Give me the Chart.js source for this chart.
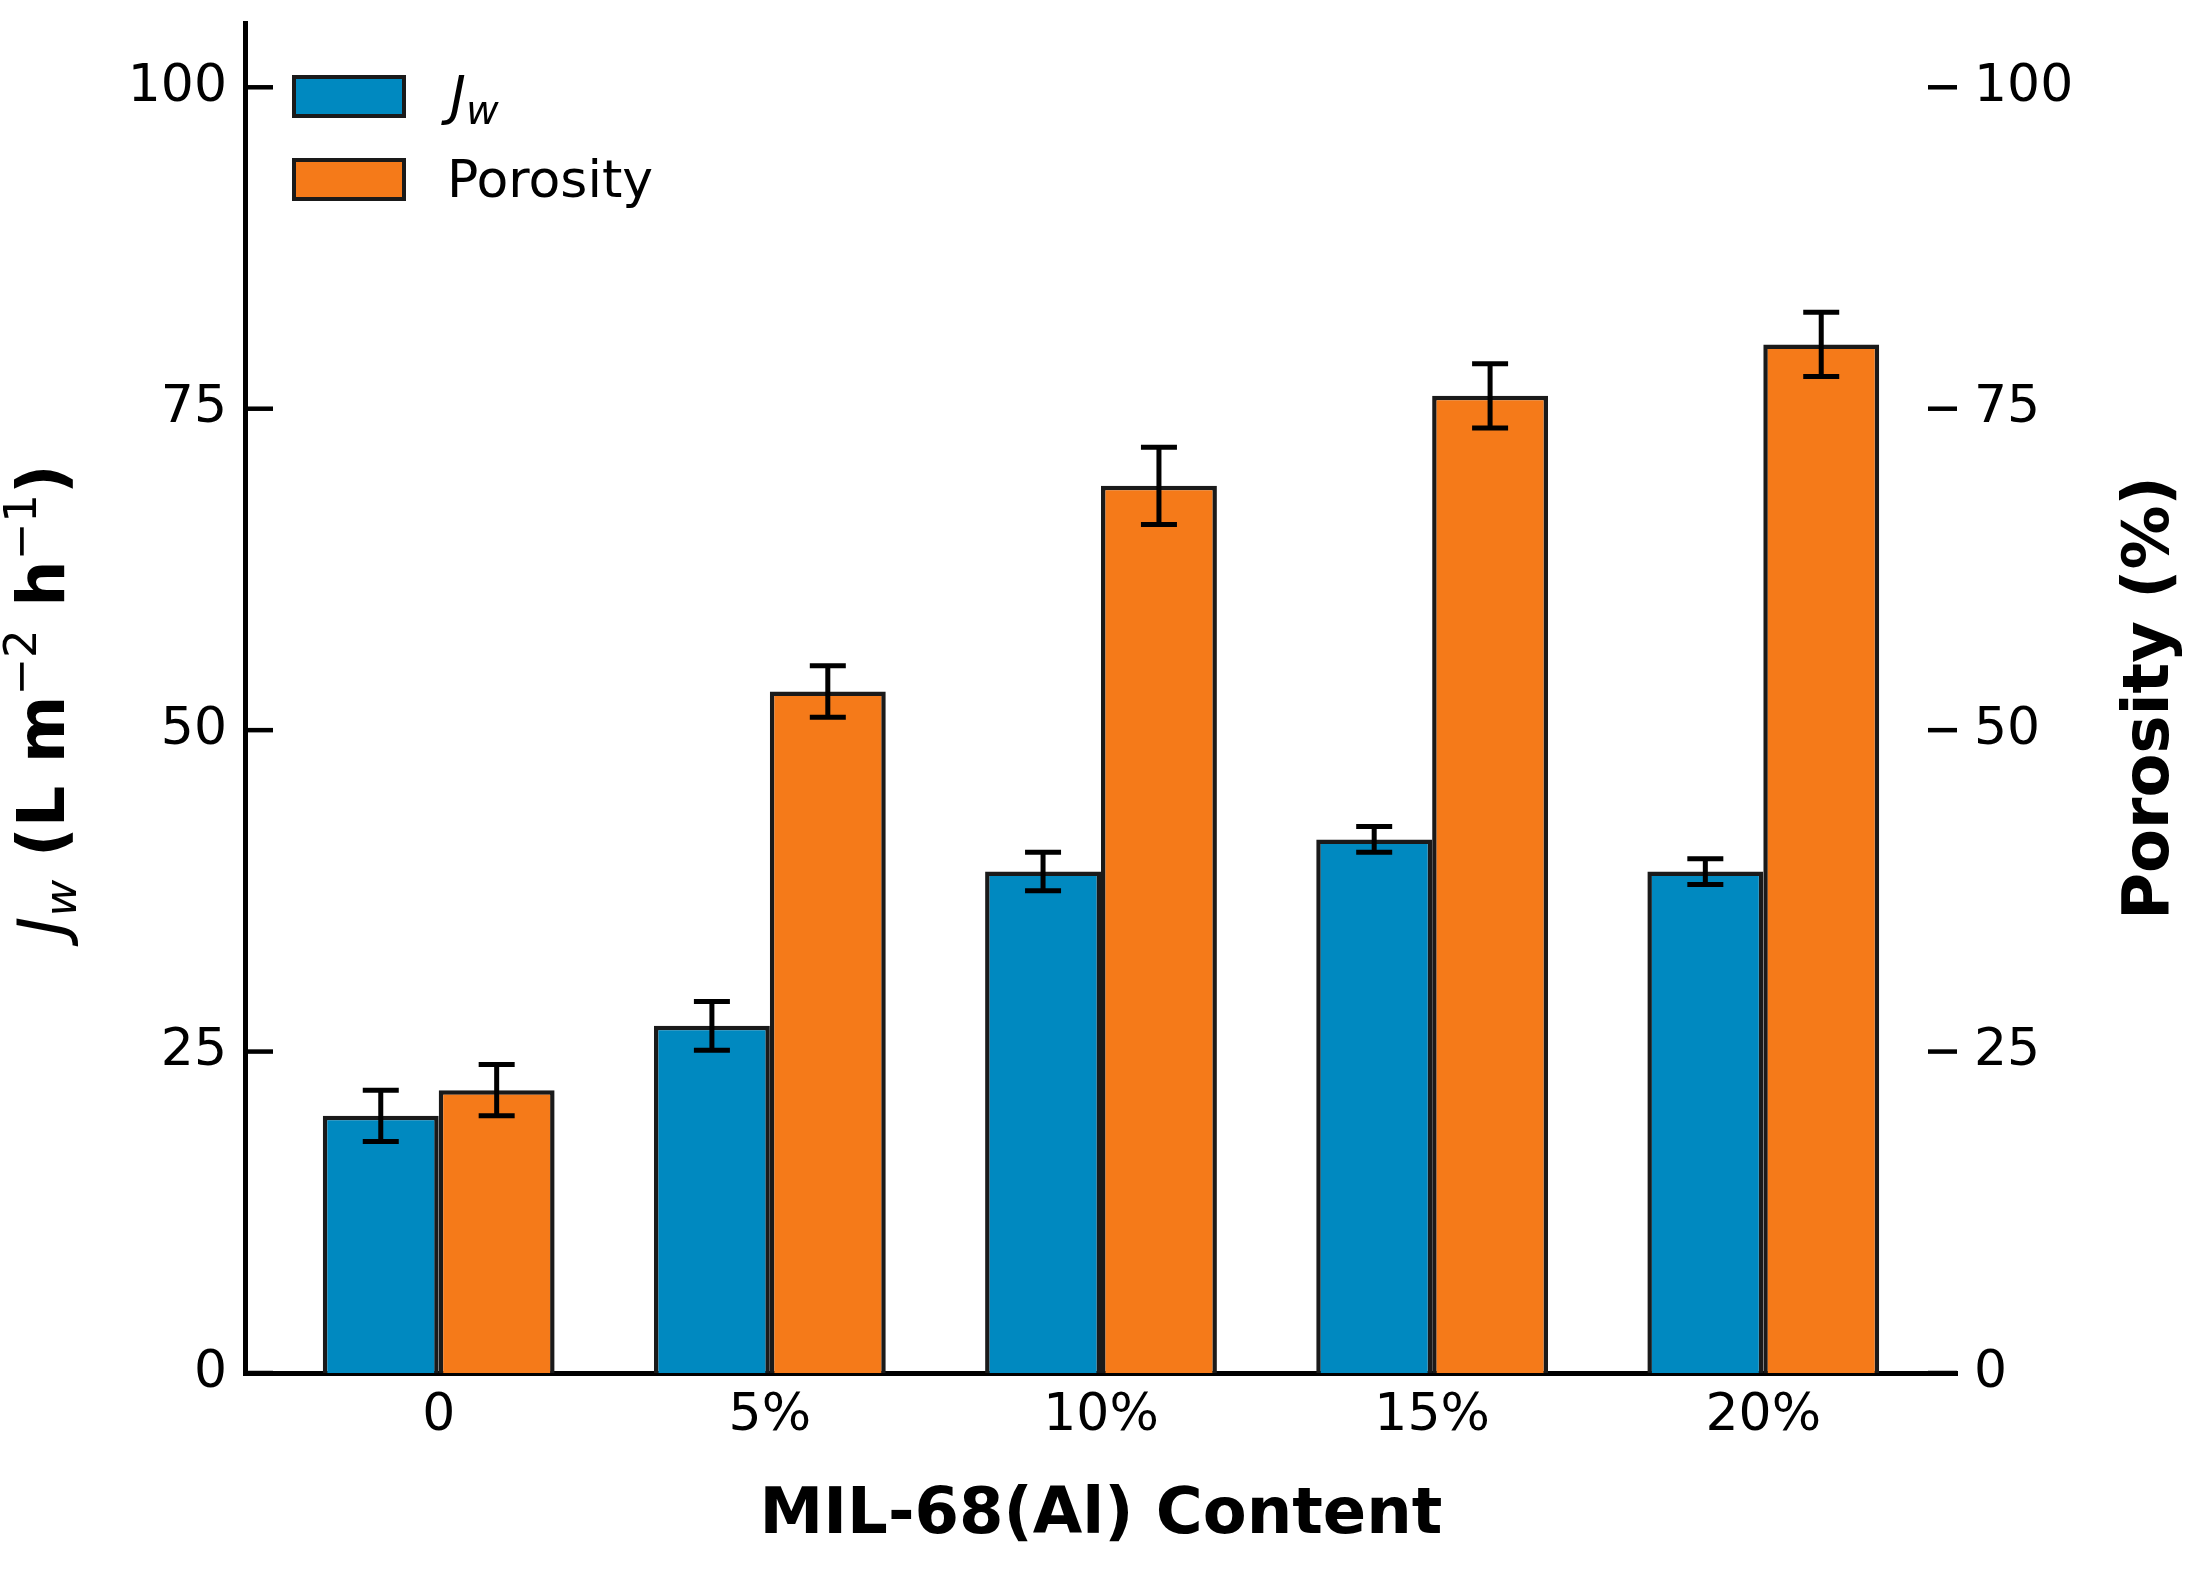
<!DOCTYPE html>
<html>
<head>
<meta charset="utf-8">
<script src="https://cdn.jsdelivr.net/npm/chart.js@4.4.1/dist/chart.umd.min.js"></script>
<style>body{margin:0;background:#fff}canvas{display:block}</style>
</head>
<body>
<canvas id="chart" width="2197" height="1582"></canvas>
<script>
// values
const categories = ['0', '5%', '10%', '15%', '20%'];
const jwValues = [20, 27, 39, 41.5, 39];
const jwErrors = [2, 1.9, 1.5, 1, 1];
const porosityValues = [22, 53, 69, 76, 80];
const porosityErrors = [2, 2, 3, 2.5, 2.5];
const yTicks = [0, 25, 50, 75, 100];

const FONT = 'DejaVu Sans';
const BLUE = '#0089c0';
const ORANGE = '#f57a19';
const EDGE = '#1a1a1a';

// error bars drawn from the bar elements + the dataset's own y scale
const errorBars = {
  id: 'errorBars',
  afterDatasetsDraw(chart) {
    const ctx = chart.ctx;
    chart.data.datasets.forEach((ds, i) => {
      const meta = chart.getDatasetMeta(i);
      const ys = chart.scales[ds.yAxisID];
      meta.data.forEach((bar, j) => {
        const v = ds.data[j].y, e = ds.errors[j];
        const top = ys.getPixelForValue(v + e), bot = ys.getPixelForValue(v - e);
        ctx.save();
        ctx.strokeStyle = '#000';
        ctx.lineWidth = 5;
        ctx.beginPath();
        ctx.moveTo(bar.x, top); ctx.lineTo(bar.x, bot);
        ctx.moveTo(bar.x - 18, top); ctx.lineTo(bar.x + 18, top);
        ctx.moveTo(bar.x - 18, bot); ctx.lineTo(bar.x + 18, bot);
        ctx.stroke();
        ctx.restore();
      });
    });
  }
};

function drawRich(ctx, parts, x, y, rot) {
  ctx.save();
  ctx.translate(x, y);
  ctx.rotate(rot);
  let total = 0;
  parts.forEach(p => { ctx.font = p.font; p.w = ctx.measureText(p.t).width; total += p.w; });
  let cx = -total / 2;
  ctx.textBaseline = 'alphabetic';
  ctx.textAlign = 'left';
  ctx.fillStyle = '#000';
  parts.forEach(p => { ctx.font = p.font; ctx.fillText(p.t, cx, p.dy || 0); cx += p.w; });
  ctx.restore();
}

// inward ticks, axis titles and legend
const decorations = {
  id: 'decorations',
  afterDraw(chart) {
    const ctx = chart.ctx;
    const a = chart.chartArea;
    const yl = chart.scales.y, yr = chart.scales.y2;
    ctx.save();
    ctx.strokeStyle = '#000';
    ctx.lineWidth = 4.5;
    yTicks.forEach(t => {
      const py = yl.getPixelForValue(t);
      ctx.beginPath(); ctx.moveTo(a.left, py); ctx.lineTo(a.left + 28, py); ctx.stroke();
      const pr = yr.getPixelForValue(t);
      ctx.beginPath(); ctx.moveTo(a.right - 29, pr); ctx.lineTo(a.right, pr); ctx.stroke();
    });
    ctx.restore();

    // left title: J_w (L m^-2 h^-1)
    const big = 65, small = 45;
    drawRich(ctx, [
      {t: 'J', font: `italic ${big}px ${FONT}`},
      {t: 'w', font: `italic ${small}px ${FONT}`, dy: 12},
      {t: ' (L m', font: `bold ${big}px ${FONT}`},
      {t: '\u22122', font: `${small}px ${FONT}`, dy: -28},
      {t: ' h', font: `bold ${big}px ${FONT}`},
      {t: '\u22121', font: `${small}px ${FONT}`, dy: -28},
      {t: ')', font: `bold ${big}px ${FONT}`}
    ], 64, 700, -Math.PI / 2);

    drawRich(ctx, [{t: 'Porosity (%)', font: `bold 64px ${FONT}`}], 2168, 698, -Math.PI / 2);
    drawRich(ctx, [{t: 'MIL-68(Al) Content', font: `bold 64px ${FONT}`}], (a.left + a.right) / 2, 1533, 0);

    // legend
    const rows = [
      {color: BLUE, y: 77, parts: [
        {t: 'J', font: `italic 54px ${FONT}`},
        {t: 'w', font: `italic 40px ${FONT}`, dy: 10}], base: 114, x: 450},
      {color: ORANGE, y: 160, parts: [{t: 'Porosity', font: `52px ${FONT}`}], base: 197, x: 447}
    ];
    rows.forEach(r => {
      ctx.save();
      ctx.fillStyle = r.color;
      ctx.fillRect(294, r.y, 110, 39);
      ctx.strokeStyle = EDGE;
      ctx.lineWidth = 4;
      ctx.strokeRect(294, r.y, 110, 39);
      ctx.fillStyle = '#000';
      let cx = r.x;
      r.parts.forEach(p => {
        ctx.font = p.font;
        ctx.fillText(p.t, cx, r.base + (p.dy || 0));
        cx += ctx.measureText(p.t).width;
      });
      ctx.restore();
    });
  }
};

const tickFont = {family: FONT, size: 52};

new Chart(document.getElementById('chart'), {
  type: 'bar',
  data: {
    datasets: [
      {
        label: 'Jw',
        data: jwValues.map((v, i) => ({x: i, y: v})),
        errors: jwErrors,
        backgroundColor: BLUE,
        borderColor: EDGE,
        borderWidth: 4.5,
        yAxisID: 'y'
      },
      {
        label: 'Porosity',
        data: porosityValues.map((v, i) => ({x: i, y: v})),
        errors: porosityErrors,
        backgroundColor: ORANGE,
        borderColor: EDGE,
        borderWidth: 4.5,
        yAxisID: 'y2'
      }
    ]
  },
  options: {
    responsive: false,
    animation: false,
    events: [],
    categoryPercentage: 0.7,
    barPercentage: 1.0,
    layout: {padding: {left: 0, right: 0, top: 23, bottom: 0}},
    plugins: {legend: {display: false}, tooltip: {enabled: false}},
    scales: {
      x: {
        type: 'linear',
        offset: false,
        min: -0.585,
        max: 4.585,
        afterBuildTicks: s => { s.ticks = categories.map((c, i) => ({value: i})); },
        afterFit: s => { s.height = 209; s.paddingLeft = 0; s.paddingRight = 0; },
        ticks: {
          callback: v => categories[v],
          font: tickFont, color: '#000', padding: 12,
          autoSkip: false, maxRotation: 0
        },
        grid: {display: false, drawTicks: false},
        border: {display: true, width: 5, color: '#000'}
      },
      y: {
        position: 'left',
        min: 0,
        max: 105,
        afterBuildTicks: s => { s.ticks = yTicks.map(v => ({value: v})); },
        afterFit: s => { s.width = 245; s.paddingTop = 0; s.paddingBottom = 0; },
        ticks: {font: tickFont, color: '#000', padding: 18},
        grid: {display: false, drawTicks: false},
        border: {display: true, width: 5, color: '#000'}
      },
      y2: {
        position: 'right',
        min: 0,
        max: 105,
        afterBuildTicks: s => { s.ticks = yTicks.map(v => ({value: v})); },
        afterFit: s => { s.width = 240; s.paddingTop = 0; s.paddingBottom = 0; },
        ticks: {font: tickFont, color: '#000', padding: 17},
        grid: {display: false, drawTicks: false},
        border: {display: false}
      }
    }
  },
  plugins: [errorBars, decorations]
});
</script>
</body>
</html>
